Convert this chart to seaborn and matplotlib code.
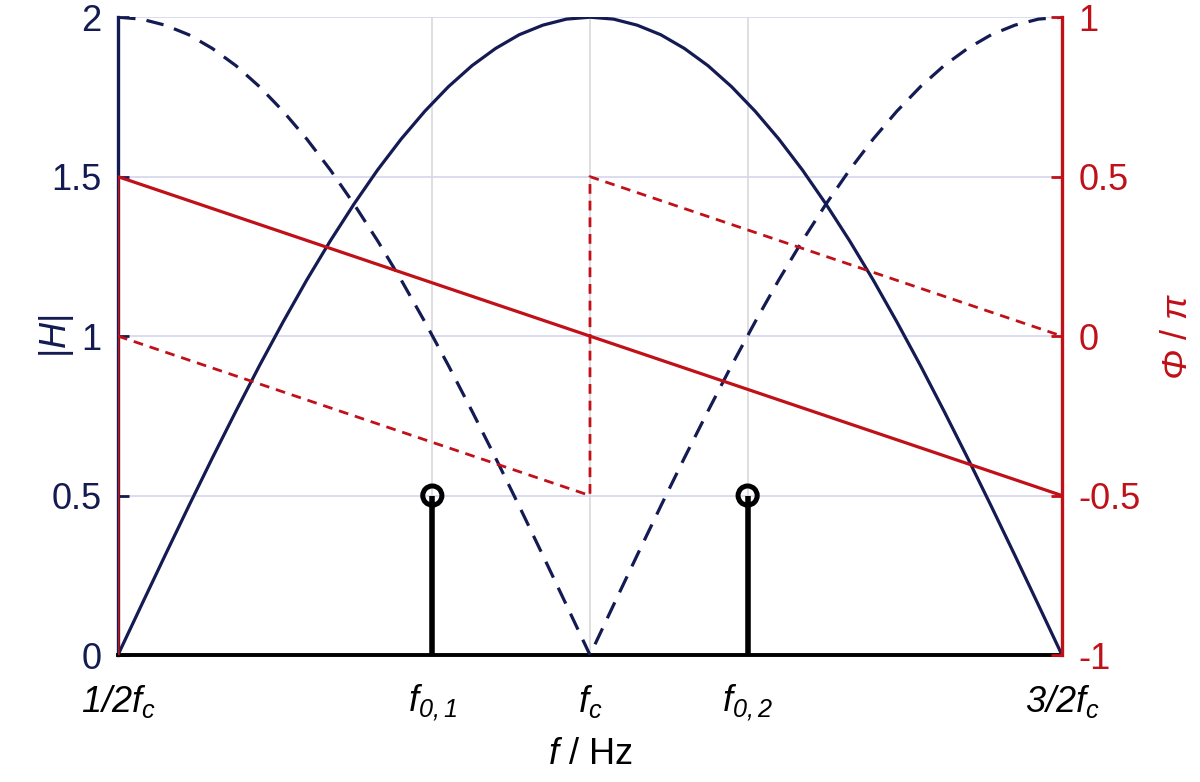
import numpy as np
import pandas as pd
import matplotlib
matplotlib.use("Agg")
import matplotlib.pyplot as plt
import seaborn as sns

# === Data (f in units of f_c) ===
freq = [0.500, 0.525, 0.550, 0.575, 0.600, 0.625, 0.650, 0.675, 0.700, 0.725,
        0.750, 0.775, 0.800, 0.825, 0.850, 0.875, 0.900, 0.925, 0.950, 0.975,
        1.000, 1.025, 1.050, 1.075, 1.100, 1.125, 1.150, 1.175, 1.200, 1.225,
        1.250, 1.275, 1.300, 1.325, 1.350, 1.375, 1.400, 1.425, 1.450, 1.475,
        1.500]

# solid |H| (bandpass-like arch)
mag_solid = [0.000, 0.157, 0.313, 0.467, 0.618, 0.765, 0.908, 1.045, 1.176, 1.299,
             1.414, 1.521, 1.618, 1.705, 1.782, 1.848, 1.902, 1.945, 1.975, 1.994,
             2.000, 1.994, 1.975, 1.945, 1.902, 1.848, 1.782, 1.705, 1.618, 1.521,
             1.414, 1.299, 1.176, 1.045, 0.908, 0.765, 0.618, 0.467, 0.313, 0.157,
             0.000]

# dashed |H| (notch at f_c)
mag_dashed = [2.000, 1.994, 1.975, 1.945, 1.902, 1.848, 1.782, 1.705, 1.618, 1.521,
              1.414, 1.299, 1.176, 1.045, 0.908, 0.765, 0.618, 0.467, 0.313, 0.157,
              0.000, 0.157, 0.313, 0.467, 0.618, 0.765, 0.908, 1.045, 1.176, 1.299,
              1.414, 1.521, 1.618, 1.705, 1.782, 1.848, 1.902, 1.945, 1.975, 1.994,
              2.000]

# phase / pi
phase_solid_f = [0.5, 0.5, 1.5]
phase_solid = [-1.0, 0.5, -0.5]
phase_dashed_f = [0.5, 1.0, 1.0, 1.5]
phase_dashed = [0.0, -0.5, 0.5, 0.0]

# input tones
tone_f = [0.833, 1.167]
tone_amp = [0.5, 0.5]

tick_pos = [0.5, 0.833, 1.0, 1.167, 1.5]
tick_labels = [r"$1/2f_c$", r"$f_{0,1}$", r"$f_c$", r"$f_{0,2}$", r"$3/2f_c$"]

NAVY = "#141a52"
RED = "#c01018"

sns.set_style("white")
plt.rcParams["font.family"] = ["Liberation Sans", "DejaVu Sans"]
# all math text italic (upright parts are written outside $...$)
plt.rcParams["mathtext.fontset"] = "custom"
plt.rcParams["mathtext.rm"] = "Liberation Sans:italic"
plt.rcParams["mathtext.it"] = "Liberation Sans:italic"
plt.rcParams["mathtext.bf"] = "Liberation Sans:bold"

fig = plt.figure(figsize=(12, 7.82), dpi=100)
ax = fig.add_axes([0.0983, 0.1624, 0.7867, 0.8156])
ax2 = ax.twinx()

# grid
for yv in [0.5, 1.0, 1.5, 2.0]:
    ax.axhline(yv, color="#d6d6ee", lw=1.2, zorder=0)
for xv in tick_pos[1:-1]:
    ax.axvline(xv, color="#d9d9d9", lw=1.2, zorder=0)

# magnitude curves
df_mag = pd.DataFrame({"f": freq, "solid": mag_solid, "dashed": mag_dashed})
sns.lineplot(data=df_mag, x="f", y="solid", ax=ax, color=NAVY, lw=2.3,
             sort=False, estimator=None, zorder=3)
sns.lineplot(data=df_mag, x="f", y="dashed", ax=ax, color=NAVY, lw=2.3,
             sort=False, estimator=None, zorder=3)
ax.lines[-1].set_linestyle((0, (5.5, 3.5)))

# stems
ax.vlines(tone_f, 0, tone_amp, color="black", lw=4.0, zorder=4)
sns.scatterplot(x=tone_f, y=tone_amp, ax=ax, s=190, marker="o",
                facecolor="none", edgecolor="black", linewidth=3.6, zorder=5)

# phase curves
df_ps = pd.DataFrame({"f": phase_solid_f, "p": phase_solid})
df_pd = pd.DataFrame({"f": phase_dashed_f, "p": phase_dashed})
sns.lineplot(data=df_ps, x="f", y="p", ax=ax2, color=RED, lw=2.3,
             sort=False, estimator=None)
sns.lineplot(data=df_pd, x="f", y="p", ax=ax2, color=RED, lw=2.0,
             sort=False, estimator=None)
ax2.lines[-1].set_linestyle((0, (3.5, 2.5)))

# axes limits / ticks
ax.set_xlim(0.5, 1.5)
ax.set_ylim(0, 2)
ax2.set_ylim(-1, 1)
ax.set_xticks(tick_pos)
ax.set_xticklabels(tick_labels)
ax.set_yticks([0, 0.5, 1, 1.5, 2])
ax.set_yticklabels(["0", "0.5", "1", "1.5", "2"])
ax2.set_yticks([-1, -0.5, 0, 0.5, 1])
ax2.set_yticklabels(["-1", "-0.5", "0", "0.5", "1"])

ax.tick_params(axis="x", length=0, labelsize=26, pad=20, labelcolor="black")
ax.tick_params(axis="y", direction="in", length=8, width=2, colors=NAVY,
               labelsize=26, pad=12)
ax2.tick_params(axis="y", direction="in", length=8, width=2, colors=RED,
                labelsize=26, pad=12)
ax2.tick_params(axis="x", length=0)

ax.set_xlabel(r"$f$ / Hz", fontsize=26, color="black", labelpad=10)
ax.set_ylabel(r"|$H$|", fontsize=26, color=NAVY, labelpad=-18)
ax2.set_ylabel(r"$\Phi$ / $\pi$", fontsize=26, color=RED, labelpad=14)

for a in (ax, ax2):
    a.spines["top"].set_visible(False)
ax.spines["left"].set_color(NAVY)
ax.spines["left"].set_linewidth(2.4)
ax.spines["right"].set_visible(False)
ax.spines["bottom"].set_color("black")
ax.spines["bottom"].set_linewidth(2.8)
ax2.spines["left"].set_visible(False)
ax2.spines["bottom"].set_visible(False)
ax2.spines["right"].set_color(RED)
ax2.spines["right"].set_linewidth(2.4)

fig.savefig("out.png", dpi=100)
